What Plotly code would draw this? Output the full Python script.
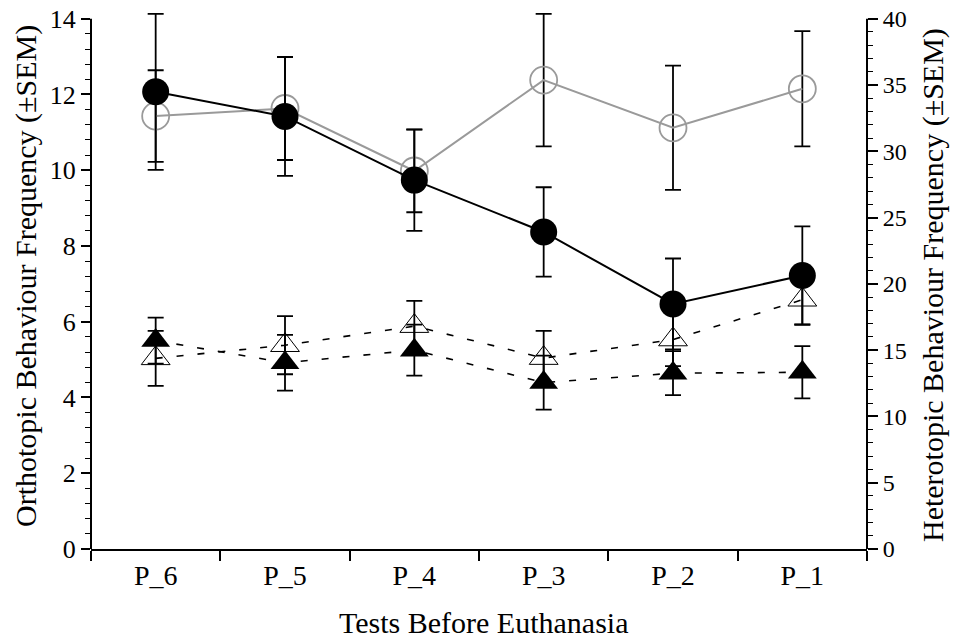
import plotly.graph_objects as go

# ---------------- data ----------------
tests = ["P_6", "P_5", "P_4", "P_3", "P_2", "P_1"]

# orthotopic behaviour (left axis) - circles
ortho_filled = [12.07, 11.42, 9.74, 8.37, 6.47, 7.22]
ortho_filled_sem = [2.06, 1.57, 1.34, 1.18, 1.20, 1.30]
ortho_open = [11.43, 11.63, 9.98, 12.38, 11.12, 12.15]
ortho_open_sem = [1.21, 1.36, 1.09, 1.75, 1.64, 1.52]

# heterotopic behaviour (right axis) - triangles
hetero_filled = [15.72, 14.05, 15.00, 12.55, 13.26, 13.33]
hetero_filled_sem = [1.74, 2.10, 1.92, 2.03, 1.66, 1.97]
hetero_open = [14.38, 15.37, 16.81, 14.40, 15.80, 18.80]
hetero_open_sem = [2.07, 2.19, 1.90, 2.05, 2.00, 1.86]

left_ticks = [0, 2, 4, 6, 8, 10, 12, 14]
right_ticks = [0, 5, 10, 15, 20, 25, 30, 35, 40]
left_max, right_max = 14, 40

FONT = "Liberation Serif"
PAD = 1.0221  # a little headroom so error caps above the top tick are not clipped


def err(vals):
    return dict(type="data", array=vals, visible=True, color="black",
                thickness=1.8, width=8)


fig = go.Figure()

fig.add_trace(go.Scatter(
    x=tests, y=hetero_open, yaxis="y2", mode="lines+markers", cliponaxis=False,
    line=dict(color="black", width=1.6, dash="7px,14px"),
    marker=dict(symbol="triangle-up-open", size=25, color="black",
                line=dict(color="black", width=1)),
    error_y=err(hetero_open_sem), showlegend=False))

fig.add_trace(go.Scatter(
    x=tests, y=hetero_filled, yaxis="y2", mode="lines+markers", cliponaxis=False,
    line=dict(color="black", width=1.6, dash="7px,14px"),
    marker=dict(symbol="triangle-up", size=25, color="black"),
    error_y=err(hetero_filled_sem), showlegend=False))

fig.add_trace(go.Scatter(
    x=tests, y=ortho_open, yaxis="y", mode="lines+markers", cliponaxis=False,
    line=dict(color="#9a9a9a", width=2),
    marker=dict(symbol="circle-open", size=27, color="#9a9a9a",
                line=dict(color="#9a9a9a", width=1.8)),
    error_y=err(ortho_open_sem), showlegend=False))

fig.add_trace(go.Scatter(
    x=tests, y=ortho_filled, yaxis="y", mode="lines+markers", cliponaxis=False,
    line=dict(color="black", width=2),
    marker=dict(symbol="circle", size=27, color="black"),
    error_y=err(ortho_filled_sem), showlegend=False))

axis_common = dict(linecolor="black", linewidth=2,
                   ticks="outside", tickcolor="black", tickwidth=1.5,
                   showgrid=False, zeroline=False, automargin=False)

fig.update_layout(
    template="none",
    width=958, height=640,
    margin=dict(l=91, r=91, t=7, b=91, autoexpand=False),
    paper_bgcolor="white", plot_bgcolor="white",
    font=dict(family=FONT, color="black"),
    xaxis=dict(**axis_common, showline=True, type="category", range=[-0.5, 5.5],
               tickson="boundaries", ticklen=10,
               tickfont=dict(family=FONT, size=28, color="black")),
    yaxis=dict(**axis_common, showline=False, range=[0, left_max * PAD],
               tickvals=left_ticks, ticklen=9,
               tickfont=dict(family=FONT, size=26, color="black"),
               minor=dict(dtick=0.4, tick0=0, ticks="outside", ticklen=5,
                          tickcolor="black", tickwidth=1.2)),
    yaxis2=dict(**axis_common, showline=False, range=[0, right_max * PAD],
                tickvals=right_ticks, ticklen=10,
                overlaying="y", side="right",
                tickfont=dict(family=FONT, size=24, color="black"),
                minor=dict(dtick=1, tick0=0, ticks="outside", ticklen=5,
                           tickcolor="black", tickwidth=1.2)),
    shapes=[
        dict(type="line", xref="paper", yref="y", x0=0, x1=0, y0=0, y1=left_max,
             line=dict(color="black", width=2)),
        dict(type="line", xref="paper", yref="y2", x0=1, x1=1, y0=0, y1=right_max,
             line=dict(color="black", width=2)),
    ],
    annotations=[
        dict(text="Orthotopic Behaviour Frequency (±SEM)", textangle=-90,
             xref="paper", yref="paper", x=-0.083, y=0.503,
             xanchor="center", yanchor="middle", showarrow=False,
             font=dict(family=FONT, size=30, color="black")),
        dict(text="Heterotopic Behaviour Frequency (±SEM)", textangle=-90,
             xref="paper", yref="paper", x=1.085, y=0.487,
             xanchor="center", yanchor="middle", showarrow=False,
             font=dict(family=FONT, size=30, color="black")),
        dict(text="Tests Before Euthanasia",
             xref="paper", yref="paper", x=0.506, y=-0.135,
             xanchor="center", yanchor="middle", showarrow=False,
             font=dict(family=FONT, size=30, color="black")),
    ],
)

fig.write_html("out.html", config={"displayModeBar": False},
               post_script="document.body.style.margin='0px';document.body.style.padding='0px';")
